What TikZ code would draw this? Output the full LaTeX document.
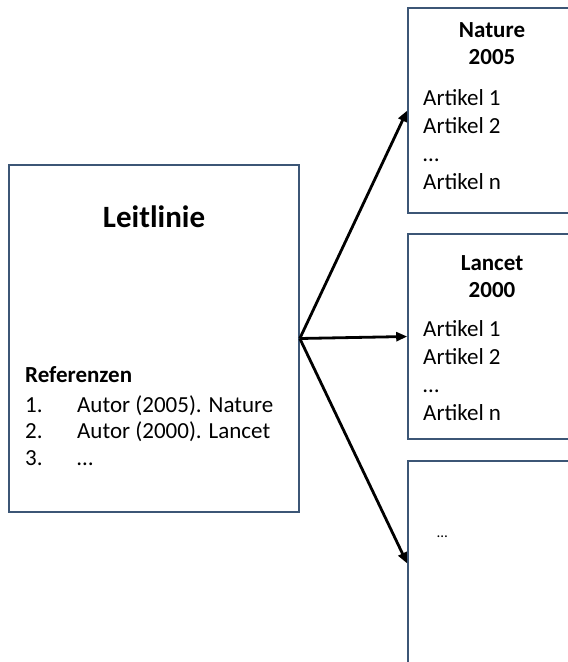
\documentclass[tikz,border=0pt]{standalone}
\usepackage{fontspec}
\setmainfont{Carlito}
\usetikzlibrary{positioning,arrows.meta}
\definecolor{boxline}{RGB}{60,86,118}
\tikzset{
	outline/.style={x=1pt,y=-1pt,>={Triangle[length=11pt,width=9pt]},
		font=\fontsize{23}{27.8}\selectfont},
	paper/.style={draw=boxline,line width=1.6pt,fill=white,minimum width=290pt,
		minimum height=347pt,inner sep=0pt},
	journal/.style={paper,minimum width=168pt,minimum height=205pt},
	title/.style={anchor=base,font=\fontsize{31}{36}\selectfont\bfseries},
	heading/.style={anchor=base,align=center,font=\fontsize{23}{27}\selectfont\bfseries},
	items/.style={anchor=base west,align=left,inner sep=0pt},
	link/.style={->,line width=2.8pt}
}

\begin{document}
\begin{tikzpicture}[outline]
\clip (0,0) rectangle (568,662);

\node[paper] (leit) at (154,338.5) {};
\node[journal] (nature) at (492,110.5) {};
\node[journal] (lancet) at (492,336.5) {};
\node[journal] (more) at (492,563.5) {};

% Leitlinie
\node[title] (leittitle) at (154,227) {Leitlinie};
\node[items,font=\fontsize{23}{27}\selectfont\bfseries] (refs) at (25,382) {Referenzen};
\foreach \n/\txt [count=\i] in {1./{Autor (2005). Nature},2./{Autor (2000). Lancet},3./\dots}
	\node[items] (ref\i) at (25,385.5+\i*26.5) {\makebox[52pt][l]{\n}\txt};

% Zeitschriften (base = letzte Zeile)
\node[heading] (naturehead) at (492,64) {Nature\\2005};
\node[items] (naturelist) at (423,189) {Artikel 1\\Artikel 2\\\dots\\Artikel n};
\node[heading] (lancethead) at (492,297) {Lancet\\2000};
\node[items] (lancetlist) at (423,420) {Artikel 1\\Artikel 2\\\dots\\Artikel n};
\node[items,font=\fontsize{15}{18}\selectfont] (moredots) at (437,537) {\dots};

\draw[link] (leit.east) -- (nature.west);
\draw[link] (leit.east) -- (lancet.west);
\draw[link] (leit.east) -- (more.west);
\end{tikzpicture}
\end{document}
